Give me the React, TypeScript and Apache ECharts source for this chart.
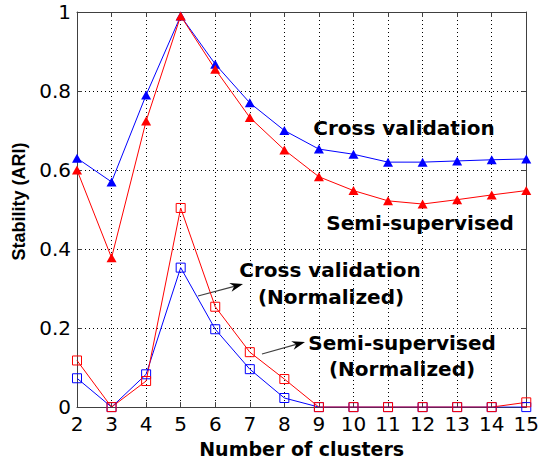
import React, { useEffect, useRef } from "react";
import * as echarts from "echarts";

const clusters = [2, 3, 4, 5, 6, 7, 8, 9, 10, 11, 12, 13, 14, 15];
const crossValidation = [0.63, 0.57, 0.79, 0.99, 0.868, 0.77, 0.70, 0.653, 0.64, 0.62, 0.62, 0.623, 0.626, 0.628];
const semiSupervised = [0.60, 0.378, 0.724, 0.99, 0.855, 0.733, 0.651, 0.583, 0.548, 0.522, 0.514, 0.525, 0.537, 0.548];
const crossValidationNorm = [0.073, 0, 0.083, 0.353, 0.197, 0.096, 0.023, 0, 0, 0, 0, 0, 0, 0];
const semiSupervisedNorm = [0.118, 0, 0.066, 0.504, 0.254, 0.139, 0.071, 0, 0, 0, 0, 0, 0, 0.012];

const BLUE = "#0000ff";
const RED = "#ff0000";

function pairs(vals: number[]) {
  return clusters.map((c, i) => [c, vals[i]]);
}

function arrow(x1: number, y1: number, x2: number, y2: number) {
  const dx = x2 - x1;
  const dy = y2 - y1;
  const len = Math.sqrt(dx * dx + dy * dy);
  const ux = dx / len;
  const uy = dy / len;
  const px = -uy;
  const py = ux;
  const hl = 13;
  const hw = 4.5;
  const bx = x2 - ux * hl;
  const by = y2 - uy * hl;
  const nx = x2 - ux * hl * 0.7;
  const ny = y2 - uy * hl * 0.7;
  return [
    {
      type: "line",
      shape: { x1, y1, x2: nx, y2: ny },
      style: { stroke: "#404040", lineWidth: 1.2 },
      silent: true,
    },
    {
      type: "polygon",
      shape: {
        points: [
          [x2, y2],
          [bx + px * hw, by + py * hw],
          [nx, ny],
          [bx - px * hw, by - py * hw],
        ],
      },
      style: { fill: "#000" },
      silent: true,
    },
  ];
}

function label(text: string, x: number, y: number) {
  return {
    type: "text",
    x,
    y,
    silent: true,
    style: {
      text,
      fill: "#000",
      fontFamily: "DejaVu Sans",
      fontWeight: "bold",
      fontSize: 20,
      align: "center",
      verticalAlign: "middle",
    },
  };
}

export default function App() {
  const ref = useRef<HTMLDivElement>(null);
  useEffect(() => {
    if (!ref.current) return;
    document.body.style.margin = "0";
    document.body.style.overflow = "hidden";
    const chart = echarts.init(ref.current, null, { renderer: "svg" });
    const axisLineStyle = { color: "#404040", width: 1 };
    const tickFont = { color: "#000", fontFamily: "DejaVu Sans", fontSize: 20 };
    chart.setOption({
      animation: false,
      backgroundColor: "#fff",
      grid: { left: 77, right: 13, top: 12, bottom: 54, containLabel: false },
      xAxis: [
        {
          type: "value",
          min: 2,
          max: 15,
          interval: 1,
          position: "bottom",
          name: "Number of clusters",
          nameLocation: "middle",
          nameGap: 31,
          nameTextStyle: { color: "#000", fontFamily: "DejaVu Sans", fontWeight: "bold", fontSize: 19 },
          axisLine: { show: true, onZero: false, lineStyle: axisLineStyle },
          axisTick: { show: true, inside: true, length: 5, lineStyle: axisLineStyle },
          axisLabel: { ...tickFont, margin: 7 },
          splitLine: { show: true, lineStyle: { color: "#000", width: 1, type: [1, 3] } },
        },
        {
          type: "value",
          min: 2,
          max: 15,
          interval: 1,
          position: "top",
          axisLine: { show: true, onZero: false, lineStyle: axisLineStyle },
          axisTick: { show: true, inside: true, length: 5, lineStyle: axisLineStyle },
          axisLabel: { show: false },
          splitLine: { show: false },
        },
      ],
      yAxis: [
        {
          type: "value",
          min: 0,
          max: 1,
          interval: 0.2,
          position: "left",
          name: "Stability (ARI)",
          nameLocation: "middle",
          nameGap: 43,
          nameTextStyle: {
            color: "#000",
            fontFamily: "Liberation Sans",
            fontWeight: "bold",
            fontSize: 18,
            padding: [0, 0, 0, 16],
          },
          axisLine: { show: true, onZero: false, lineStyle: axisLineStyle },
          axisTick: { show: true, inside: true, length: 5, lineStyle: axisLineStyle },
          axisLabel: { ...tickFont, margin: 6 },
          splitLine: { show: true, lineStyle: { color: "#000", width: 1, type: [1, 3] } },
        },
        {
          type: "value",
          min: 0,
          max: 1,
          interval: 0.2,
          position: "right",
          axisLine: { show: true, onZero: false, lineStyle: axisLineStyle },
          axisTick: { show: true, inside: true, length: 5, lineStyle: axisLineStyle },
          axisLabel: { show: false },
          splitLine: { show: false },
        },
      ],
      series: [
        {
          name: "Cross validation",
          type: "line",
          data: pairs(crossValidation),
          symbol: "triangle",
          symbolSize: [10, 9],
          lineStyle: { color: BLUE, width: 1 },
          itemStyle: { color: BLUE },
        },
        {
          name: "Semi-supervised",
          type: "line",
          data: pairs(semiSupervised),
          symbol: "triangle",
          symbolSize: [10, 9],
          lineStyle: { color: RED, width: 1 },
          itemStyle: { color: RED },
        },
        {
          name: "Cross validation (Normalized)",
          type: "line",
          data: pairs(crossValidationNorm),
          symbol: "rect",
          symbolSize: 9,
          lineStyle: { color: BLUE, width: 1 },
          itemStyle: { color: "transparent", borderColor: BLUE, borderWidth: 1 },
        },
        {
          name: "Semi-supervised (Normalized)",
          type: "line",
          data: pairs(semiSupervisedNorm),
          symbol: "rect",
          symbolSize: 9,
          lineStyle: { color: RED, width: 1 },
          itemStyle: { color: "transparent", borderColor: RED, borderWidth: 1 },
        },
      ],
      graphic: [
        label("Cross validation", 404, 128),
        label("Semi-supervised", 420, 223),
        label("Cross validation", 330, 270),
        label("(Normalized)", 331, 297),
        label("Semi-supervised", 402, 343),
        label("(Normalized)", 402, 369),
        ...arrow(198, 296, 243, 284),
        ...arrow(262, 354, 305, 342),
      ],
    });
    return () => chart.dispose();
  }, []);
  return (
    <div
      ref={ref}
      style={{ position: "fixed", left: 0, top: 0, width: 542, height: 463 }}
    />
  );
}
